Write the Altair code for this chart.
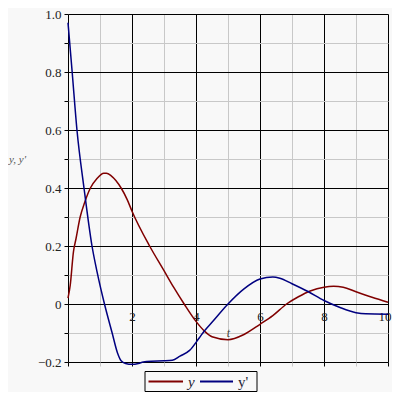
import altair as alt
import pandas as pd

# y(t) readings
t_y = [0, 0.07, 0.17, 0.25, 0.38, 0.52, 0.7, 0.9, 1.12, 1.2, 1.35, 1.66, 1.85, 2.0, 2.55, 3.0, 3.3,
       3.63, 4.0, 4.26, 4.5, 5.0, 5.5, 6.0, 6.4, 6.83, 7.2, 7.57, 8.0, 8.3, 8.6, 9.0, 9.5, 10.0]
v_y = [0.02, 0.065, 0.18, 0.225, 0.3, 0.35, 0.4, 0.432, 0.451, 0.451, 0.442, 0.4, 0.36, 0.32, 0.2, 0.115, 0.058,
       0.0, -0.06, -0.093, -0.113, -0.123, -0.105, -0.07, -0.04, 0.0, 0.025, 0.045, 0.058, 0.061, 0.058,
       0.042, 0.023, 0.006]

# y'(t) readings
t_dy = [0, 0.13, 0.28, 0.5, 0.75, 0.91, 1.14, 1.38, 1.55, 1.66, 1.8, 2.0, 2.2, 2.35, 2.6, 3.0, 3.26,
        3.5, 3.8, 4.1, 4.26, 4.5, 5.0, 5.5, 6.0, 6.4, 6.62, 7.0, 7.5, 8.0, 8.5, 9.0, 9.3, 10.0]
v_dy = [0.97, 0.8, 0.6, 0.4, 0.2, 0.11, 0.0, -0.1, -0.17, -0.196, -0.205, -0.208, -0.205, -0.2,
        -0.197, -0.196, -0.194, -0.18, -0.16, -0.117, -0.093, -0.063, 0.0, 0.052, 0.086, 0.093, 0.089,
        0.07, 0.043, 0.012, -0.012, -0.03, -0.034, -0.035]

series_names = ["y", "y'"]
series_colors = ["#800000", "#000080"]

x_ticks = [0, 1, 2, 3, 4, 5, 6, 7, 8, 9, 10]
y_ticks = [-0.2, -0.1, 0.0, 0.1, 0.2, 0.3, 0.4, 0.5, 0.6, 0.7, 0.8, 0.9, 1.0]

df = pd.concat([
    pd.DataFrame({"t": t_y, "v": v_y, "s": series_names[0], "o": range(len(t_y))}),
    pd.DataFrame({"t": t_dy, "v": v_dy, "s": series_names[1], "o": range(len(t_dy))}),
])

SERIF = "Liberation Serif"
BG = "#f8f8f8"
W, H = 320, 348
PAD = {"left": 60, "top": 6, "right": 4, "bottom": 30}

MAJOR_X = {"condition": {"test": "datum.value % 2 == 0", "value": "#000000"}, "value": "#c8c8c8"}
MAJOR_Y = {"condition": {"test": "abs(round(datum.value*10)) % 2 == 0", "value": "#000000"}, "value": "#c8c8c8"}

lines = alt.Chart(df).mark_line(strokeWidth=1.5, interpolate="monotone").encode(
    x=alt.X("t:Q", scale=alt.Scale(domain=[0, 10], nice=False, zero=False),
            axis=alt.Axis(
                values=x_ticks, grid=True, gridColor=MAJOR_X, gridOpacity=1, gridWidth=1,
                ticks=True, tickSize=4, tickColor=MAJOR_X,
                domain=False,
                labelExpr="datum.value % 2 == 0 && datum.value > 0 ? datum.label : ''",
                labelFont=SERIF, labelFontSize=13, labelColor="#222222",
                labelPadding=-55.5, labelOverlap=False, labelFlush=True, labelFlushOffset=3,
                title="t", titleFont=SERIF, titleFontStyle="italic", titleFontWeight="normal",
                titleFontSize=12, titleColor="#444444",
                titleX=W / 2, titleY=-25.5, titleAlign="center", titleBaseline="alphabetic",
            )),
    y=alt.Y("v:Q", scale=alt.Scale(domain=[-0.2, 1.0], nice=False, zero=False),
            axis=alt.Axis(
                values=y_ticks, grid=True, gridColor=MAJOR_Y, gridOpacity=1, gridWidth=1,
                ticks=True, tickSize=4, tickColor="#000000",
                domain=False,
                labelExpr="abs(round(datum.value*10)) % 2 == 0 ? (datum.value == 0 ? '0' : format(datum.value, '.1f')) : ''",
                labelFont=SERIF, labelFontSize=13, labelColor="#222222",
                labelPadding=3, labelOverlap=False, labelFlush=False,
                title="y, y'", titleFont=SERIF, titleFontStyle="italic", titleFontWeight="normal",
                titleFontSize=11, titleColor="#555555", titleAngle=0,
                titleX=-51, titleY=148, titleAlign="center", titleBaseline="alphabetic",
            )),
    color=alt.Color("s:N", scale=alt.Scale(domain=series_names, range=series_colors), legend=None),
    order="o:Q",
)

# hand-built legend (box, line samples, labels), positions in plot-area pixels
LEG_BOX = (77, 189, 357.5, 377.5)
LEG_LINE_Y = 367.5
LEG_ITEMS = [  # (line x0, line x1, text x, font style)
    (80.5, 115, 120, "italic"),
    (132, 165, 170, "normal"),
]

one = pd.DataFrame({"k": [0]})
layers = [lines,
          alt.Chart(one).mark_rect(fill=BG, stroke="#000000", strokeWidth=1).encode(
              x=alt.value(LEG_BOX[0]), x2=alt.value(LEG_BOX[1]),
              y=alt.value(LEG_BOX[2]), y2=alt.value(LEG_BOX[3]))]
for name, color, (x0, x1, tx, style) in zip(series_names, series_colors, LEG_ITEMS):
    d = pd.DataFrame({"s": [name]})
    layers.append(alt.Chart(d).mark_rule(strokeWidth=2, color=color).encode(
        x=alt.value(x0), x2=alt.value(x1), y=alt.value(LEG_LINE_Y)))
    layers.append(alt.Chart(d).mark_text(
        font=SERIF, fontSize=15, fontStyle=style, color="#222233",
        align="left", baseline="alphabetic").encode(
        x=alt.value(tx), y=alt.value(LEG_LINE_Y + 5), text="s:N"))

chart = alt.layer(*layers).properties(
    width=W, height=H,
    autosize=alt.AutoSizeParams(type="none"),
    padding=PAD,
).configure(background=BG).configure_view(stroke=None)

chart.save("out.html", embed_options={"renderer": "svg", "actions": False})
